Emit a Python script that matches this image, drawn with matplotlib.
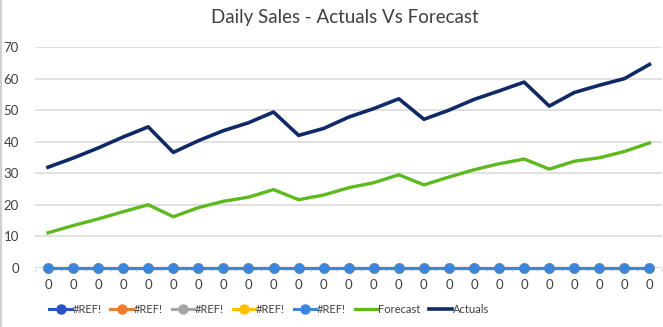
import matplotlib.pyplot as plt
import numpy as np

plt.rcParams['font.family'] = ['Lato', 'DejaVu Sans']

actuals = [31.9, 34.8, 38.0, 41.5, 44.7, 36.6, 40.3, 43.5, 46.0, 49.4,
           42.0, 44.2, 47.8, 50.5, 53.6, 47.1, 50.0, 53.4, 56.1, 58.9,
           51.3, 55.6, 57.9, 60.0, 64.5]
forecast = [11.1, 13.4, 15.5, 17.8, 20.0, 16.2, 19.1, 21.1, 22.4, 24.8,
            21.6, 23.1, 25.4, 27.0, 29.5, 26.3, 28.8, 31.1, 33.0, 34.5,
            31.3, 33.8, 34.9, 36.9, 39.6]
ref_colors = ['#2A55C0', '#ED7D31', '#A5A5A5', '#FFC000', '#3A86DC']
n = len(actuals)
ref_series = [[0] * n for _ in ref_colors]
xlabels = ['0'] * n

x = np.arange(n)

fig = plt.figure(figsize=(6.63, 3.27), dpi=100)
ax = fig.add_axes([0.0535, 0.181, 0.945, 0.675])

for v in range(10, 80, 10):
    ax.axhline(v, color='#D9D9D9', lw=1.1, zorder=0)
ax.axhline(0, color='#D0D0D0', lw=1.1, zorder=0)

for vals, c in zip(ref_series, ref_colors):
    ax.plot(x, vals, color=c, lw=2.2, marker='o', markersize=6.5, label='#REF!',
            zorder=3, clip_on=False)
ax.plot(x, forecast, color='#5CB91E', lw=2.4, label='Forecast', zorder=4)
ax.plot(x, actuals, color='#0F2A66', lw=2.6, label='Actuals', zorder=5)

ax.set_xlim(-0.5, n - 0.5)
ax.set_ylim(0, 70)
ax.set_yticks(range(0, 80, 10))
ax.set_xticks(x)
ax.set_xticklabels(xlabels)
ax.set_xticks(np.arange(-0.5, n, 1), minor=True)
ax.tick_params(axis='x', which='major', length=0, pad=8, labelsize=9.5, labelcolor='#404040')
ax.tick_params(axis='x', which='minor', length=3, color='#D0D0D0', direction='out')
ax.tick_params(axis='y', length=0, pad=12, labelsize=9.5, labelcolor='#404040')
for s in ax.spines.values():
    s.set_visible(False)

fig.text(0.52, 0.945, 'Daily Sales - Actuals Vs Forecast', ha='center', va='center',
         fontsize=13.5, color='#404040')

ax.legend(loc='center', bbox_to_anchor=(0.373, -0.19), ncol=7, frameon=False,
          fontsize=8, handlelength=2.0, handletextpad=0.1, columnspacing=0.8,
          labelcolor='#404040')

fig.add_artist(plt.Line2D([0.002, 0.002], [0, 1], color='#D0D0D0', lw=1.5, transform=fig.transFigure))

fig.savefig('out.png', dpi=100)
